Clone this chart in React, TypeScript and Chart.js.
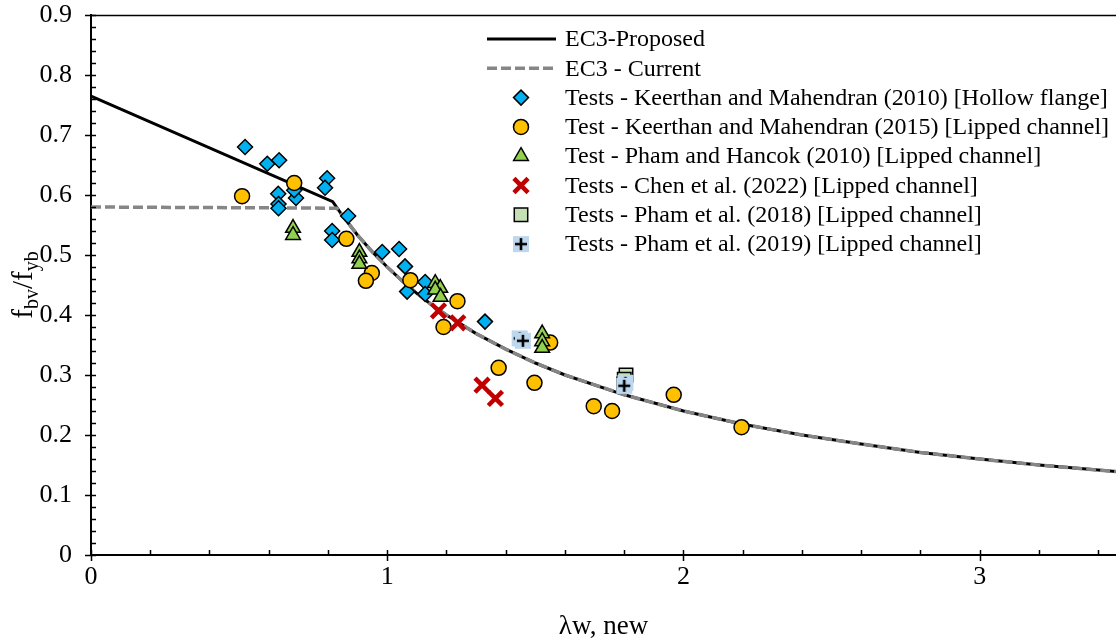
import React, { useEffect, useRef } from "react";
import { Chart, registerables } from "chart.js";
import { drawPoint } from "chart.js/helpers";

Chart.register(...registerables);

const FONT = '"Liberation Serif", "Times New Roman", serif';

// Design curves (slenderness λw vs fbv/fyb)
const proposedLambda = [0, 0.816, 0.85, 0.9, 0.95, 1.0, 1.05, 1.1, 1.15, 1.2, 1.3, 1.4, 1.5, 1.6, 1.8, 2.0, 2.2, 2.4, 2.6, 2.8, 3.0, 3.2, 3.46];
const proposedValues = [0.765, 0.589, 0.565, 0.533, 0.505, 0.48, 0.457, 0.436, 0.417, 0.4, 0.369, 0.343, 0.32, 0.3, 0.267, 0.24, 0.218, 0.2, 0.185, 0.171, 0.16, 0.15, 0.139];
const currentLambda = [0, 0.83, 0.85, 0.9, 0.95, 1.0, 1.05, 1.1, 1.15, 1.2, 1.3, 1.4, 1.5, 1.6, 1.8, 2.0, 2.2, 2.4, 2.6, 2.8, 3.0, 3.2, 3.46];
const currentValues = [0.58, 0.578, 0.565, 0.533, 0.505, 0.48, 0.457, 0.436, 0.417, 0.4, 0.369, 0.343, 0.32, 0.3, 0.267, 0.24, 0.218, 0.2, 0.185, 0.171, 0.16, 0.15, 0.139];

// Test results
const km2010X = [0.52, 0.595, 0.635, 0.632, 0.633, 0.633, 0.692, 0.686, 0.797, 0.79, 0.814, 0.814, 0.868, 0.983, 1.04, 1.06, 1.067, 1.128, 1.128, 1.33];
const km2010Y = [0.68, 0.652, 0.658, 0.602, 0.585, 0.578, 0.595, 0.608, 0.628, 0.612, 0.54, 0.525, 0.565, 0.505, 0.51, 0.481, 0.439, 0.455, 0.435, 0.389];

const km2015X = [0.51, 0.686, 0.862, 0.948, 0.928, 1.078, 1.237, 1.19, 1.376, 1.55, 1.497, 1.697, 1.759, 1.967, 2.196];
const km2015Y = [0.598, 0.62, 0.527, 0.47, 0.457, 0.458, 0.423, 0.38, 0.312, 0.354, 0.287, 0.248, 0.24, 0.267, 0.213];

const ph2010X = [0.682, 0.682, 0.906, 0.906, 0.906, 1.162, 1.179, 1.162, 1.18, 1.523, 1.523, 1.523];
const ph2010Y = [0.545, 0.533, 0.505, 0.494, 0.485, 0.453, 0.445, 0.442, 0.43, 0.369, 0.356, 0.345];

const chen2022X = [1.173, 1.238, 1.32, 1.365];
const chen2022Y = [0.407, 0.387, 0.283, 0.261];

const pham2018X = [1.806, 1.8, 1.798];
const pham2018Y = [0.3, 0.293, 0.285];

const pham2019X = [1.447, 1.458, 1.804, 1.8];
const pham2019Y = [0.361, 0.357, 0.287, 0.282];

// Axes
const xTicks = [0, 1, 2, 3];
const yTicks = [0, 0.1, 0.2, 0.3, 0.4, 0.5, 0.6, 0.7, 0.8, 0.9];
const X_MAX = 3.46;
const Y_MAX = 0.9;

const pts = (xs: number[], ys: number[]) => xs.map((x, i) => ({ x, y: ys[i] }));

function plusBoxMarker(): HTMLCanvasElement {
  const c = document.createElement("canvas");
  c.width = 18;
  c.height = 18;
  const g = c.getContext("2d")!;
  g.fillStyle = "#BDD7EE";
  g.fillRect(1, 1, 16, 16);
  g.strokeStyle = "#000";
  g.lineWidth = 2.6;
  g.beginPath();
  g.moveTo(9, 3);
  g.lineTo(9, 15);
  g.moveTo(3, 9);
  g.lineTo(15, 9);
  g.stroke();
  return c;
}

const noPadding = (s: any) => {
  s.paddingTop = 0;
  s.paddingBottom = 0;
  s.paddingLeft = 0;
  s.paddingRight = 0;
};

const tickPlugin = {
  id: "axisDecor",
  afterDraw(chart: any) {
    const { ctx, chartArea, scales } = chart;
    const xs = scales.x;
    const ys = scales.y;
    ctx.save();
    ctx.strokeStyle = "#000";
    ctx.lineWidth = 1.5;
    ctx.beginPath();
    // x ticks: minor inside, major crossing
    for (let i = 0; i <= 17; i++) {
      const v = i * 0.2;
      if (v > X_MAX) break;
      const px = Math.round(xs.getPixelForValue(v)) + 0.5;
      const major = i % 5 === 0;
      ctx.moveTo(px, chartArea.bottom - 5);
      ctx.lineTo(px, chartArea.bottom + (major ? 6 : 0));
    }
    // y ticks
    for (let i = 0; i <= 45; i++) {
      const v = i * 0.02;
      const py = Math.round(ys.getPixelForValue(v)) + 0.5;
      const major = i % 5 === 0;
      ctx.moveTo(chartArea.left + 5, py);
      ctx.lineTo(chartArea.left - (major ? 6 : 0), py);
    }
    ctx.stroke();
    // top border
    ctx.beginPath();
    ctx.moveTo(chartArea.left, chartArea.top + 0.5);
    ctx.lineTo(chartArea.right, chartArea.top + 0.5);
    ctx.stroke();

    // axis titles
    ctx.fillStyle = "#000";
    ctx.textBaseline = "alphabetic";
    ctx.textAlign = "center";
    ctx.font = `27px ${FONT}`;
    ctx.fillText("λw, new", (chartArea.left + chartArea.right) / 2, 634);

    const big = `29px ${FONT}`;
    const small = `20px ${FONT}`;
    const parts: [string, boolean][] = [["f", false], ["bv", true], ["/f", false], ["yb", true]];
    let total = 0;
    for (const [t, sub] of parts) {
      ctx.font = sub ? small : big;
      total += ctx.measureText(t).width;
    }
    ctx.translate(32, (chartArea.top + chartArea.bottom) / 2);
    ctx.rotate(-Math.PI / 2);
    ctx.textAlign = "left";
    let cx = -total / 2;
    for (const [t, sub] of parts) {
      ctx.font = sub ? small : big;
      ctx.fillText(t, cx, sub ? 6 : 0);
      cx += ctx.measureText(t).width;
    }
    ctx.restore();
  },
};

const legendPlugin = {
  id: "insideLegend",
  afterDraw(chart: any) {
    const { ctx } = chart;
    const datasets = chart.data.datasets;
    const lineX0 = 487;
    const lineX1 = 556;
    const markX = 521;
    const textX = 565;
    const top = 39;
    const step = 29.3;
    ctx.save();
    ctx.font = `24px ${FONT}`;
    ctx.textBaseline = "middle";
    ctx.textAlign = "left";
    datasets.forEach((ds: any, i: number) => {
      const y = top + i * step;
      if (ds.showLine) {
        ctx.save();
        ctx.strokeStyle = ds.borderColor;
        ctx.lineWidth = ds.borderWidth;
        ctx.setLineDash(ds.borderDash || []);
        ctx.beginPath();
        ctx.moveTo(lineX0, y);
        ctx.lineTo(lineX1, y);
        ctx.stroke();
        ctx.restore();
      } else {
        ctx.save();
        ctx.fillStyle = ds.backgroundColor;
        ctx.strokeStyle = ds.borderColor;
        ctx.lineWidth = ds.borderWidth;
        drawPoint(ctx, { pointStyle: ds.pointStyle, radius: ds.pointRadius, rotation: 0, borderWidth: ds.borderWidth }, markX, y);
        ctx.restore();
      }
      ctx.fillStyle = "#000";
      ctx.fillText(ds.label, textX, y + 1);
    });
    ctx.restore();
  },
};

export default function App() {
  const canvasRef = useRef<HTMLCanvasElement | null>(null);

  useEffect(() => {
    document.body.style.margin = "0";
    const canvas = canvasRef.current;
    if (!canvas) return;
    const plusBox = plusBoxMarker();

    const marker = (
      label: string,
      data: { x: number; y: number }[],
      style: any,
      radius: number,
      fill: string,
      stroke: string,
      width: number,
      order: number
    ) => ({
      label,
      data,
      showLine: false,
      pointStyle: style,
      pointRadius: radius,
      pointHoverRadius: radius,
      backgroundColor: fill,
      borderColor: stroke,
      borderWidth: width,
      pointBackgroundColor: fill,
      pointBorderColor: stroke,
      pointBorderWidth: width,
      order,
    });

    const chart = new Chart(canvas, {
      type: "scatter",
      data: {
        datasets: [
          {
            label: "EC3-Proposed",
            data: pts(proposedLambda, proposedValues),
            showLine: true,
            borderColor: "#000000",
            borderWidth: 3,
            pointRadius: 0,
            tension: 0,
            order: 20,
          },
          {
            label: "EC3 - Current",
            data: pts(currentLambda, currentValues),
            showLine: true,
            borderColor: "#868686",
            borderWidth: 3.5,
            borderDash: [10, 4],
            pointRadius: 0,
            tension: 0,
            order: 19,
          },
          marker("Tests - Keerthan and Mahendran (2010) [Hollow flange]", pts(km2010X, km2010Y), "rectRot", 7.5, "#00B0F0", "#000000", 1.5, 8),
          marker("Test - Keerthan and Mahendran (2015) [Lipped channel]", pts(km2015X, km2015Y), "circle", 7.5, "#FFC000", "#000000", 1.5, 7),
          marker("Test - Pham and Hancok (2010) [Lipped channel]", pts(ph2010X, ph2010Y), "triangle", 8.5, "#92D050", "#000000", 1.5, 6),
          marker("Tests - Chen et al. (2022) [Lipped channel]", pts(chen2022X, chen2022Y), "crossRot", 10, "#C00000", "#C00000", 4.5, 5),
          marker("Tests - Pham et al. (2018) [Lipped channel]", pts(pham2018X, pham2018Y), "rect", 9.5, "#C5E0B4", "#000000", 1.5, 4),
          marker("Tests - Pham et al. (2019) [Lipped channel]", pts(pham2019X, pham2019Y), plusBox, 9, "#BDD7EE", "#000000", 0, 3),
        ],
      },
      options: {
        animation: false,
        responsive: false,
        devicePixelRatio: 1,
        layout: { autoPadding: false, padding: { top: 15, right: 0, left: 0, bottom: 0 } },
        plugins: {
          legend: { display: false },
          tooltip: { enabled: false },
        },
        scales: {
          x: {
            type: "linear",
            min: 0,
            max: X_MAX,
            afterBuildTicks: (s: any) => {
              s.ticks = xTicks.map((v) => ({ value: v }));
            },
            afterFit: (s: any) => {
              s.height = 86;
              noPadding(s);
            },
            ticks: {
              color: "#000",
              font: { family: FONT, size: 26 },
              padding: 7,
              maxRotation: 0,
              callback: (v: any) => String(v),
            },
            grid: { display: false, drawTicks: false },
            border: { display: true, color: "#000", width: 2 },
          },
          y: {
            type: "linear",
            min: 0,
            max: Y_MAX,
            afterBuildTicks: (s: any) => {
              s.ticks = yTicks.map((v) => ({ value: v }));
            },
            afterFit: (s: any) => {
              s.width = 91;
              noPadding(s);
            },
            ticks: {
              color: "#000",
              font: { family: FONT, size: 26 },
              padding: 19,
              callback: (v: any) => (v === 0 ? "0" : Number(v).toFixed(1)),
            },
            grid: { display: false, drawTicks: false },
            border: { display: true, color: "#000", width: 2 },
          },
        },
      },
      plugins: [tickPlugin, legendPlugin],
    });

    return () => chart.destroy();
  }, []);

  return (
    <div style={{ width: 1116, height: 641, background: "#fff" }}>
      <canvas ref={canvasRef} width={1116} height={641} style={{ display: "block" }} />
    </div>
  );
}
